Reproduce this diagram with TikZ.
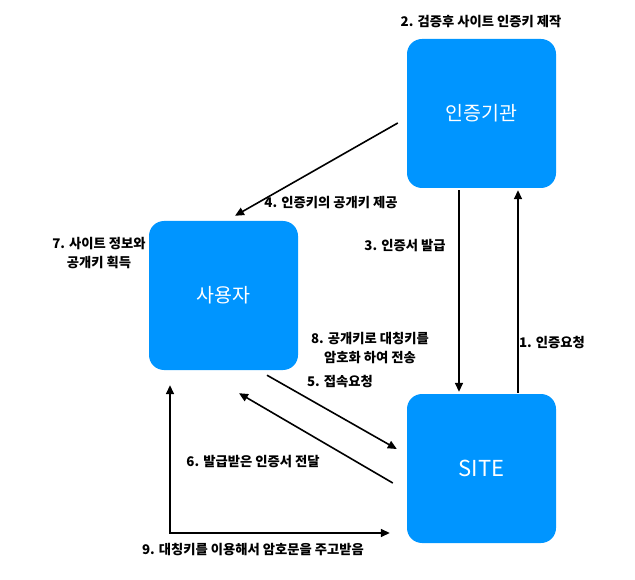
\documentclass[tikz,border=0pt]{standalone}
\usepackage{fontspec}
\setmainfont{Noto Sans CJK KR}
\usepackage{tikz}
\usetikzlibrary{arrows.meta, positioning, calc}
\definecolor{boxblue}{RGB}{0,149,255}

\begin{document}
\begin{tikzpicture}[
    x=1pt, y=-1pt,
    box/.style={fill=boxblue, rounded corners=15pt, minimum width=149pt, minimum height=149pt, text=white, font=\fontsize{19.5}{23}\selectfont},
    lbl/.style={font=\fontsize{13.3}{19}\selectfont\bfseries, align=center, inner sep=0pt},
    arrow/.style={-{Triangle[length=9pt, width=8pt]}, line width=1.6pt}
]
    \useasboundingbox (0,0) rectangle (635,580);
    \node[box] (ca) at (481.5,113.5) {인증기관};
    \node[box] (user) at (223.5,295.5) {사용자};
    \node[box] (site) at (481.5,468.5) {\fontsize{22}{26}\selectfont SITE};

    \node[lbl] (t2) at (481,22) {2. 검증후 사이트 인증키 제작};
    \node[lbl] (t4) at (331,203) {4. 인증키의 공개키 제공};
    \node[lbl] (t3) at (405,246) {3. 인증서 발급};
    \node[lbl] (t1) at (552,343) {1. 인증요청};
    \node[lbl] (t7) at (99,253) {7. 사이트 정보와\\공개키 획득};
    \node[lbl] (t8) at (370,348) {8. 공개키로 대칭키를\\암호화 하여 전송};
    \node[lbl] (t5) at (340,382) {5. 접속요청};
    \node[lbl] (t6) at (253,462) {6. 발급받은 인증서 전달};
    \node[lbl] (t9) at (253,550) {9. 대칭키를 이용해서 암호문을 주고받음};

    \draw[arrow] ($(ca.west)+(-9,9.5)$) -- ($(user.north)+(11.5,-5)$);
    \draw[arrow] ($(ca.south)+(-22.5,2)$) -- ($(site.north)+(-22.5,-2)$);
    \draw[arrow] ($(site.north)+(36.5,-1)$) -- ($(ca.south)+(36.5,2)$);
    \draw[arrow] ($(user.south)+(43.5,5)$) -- ($(site.west)+(-10,-19.5)$);
    \draw[arrow] ($(site.west)+(-14,14.5)$) -- ($(user.south)+(15.5,23)$);
    \draw[arrow, {Triangle[length=9pt, width=8pt]}-{Triangle[length=9pt, width=8pt]}] ($(user.south)+(-53.5,15)$) |- ($(site.west)+(-17,64.5)$);
\end{tikzpicture}
\end{document}
